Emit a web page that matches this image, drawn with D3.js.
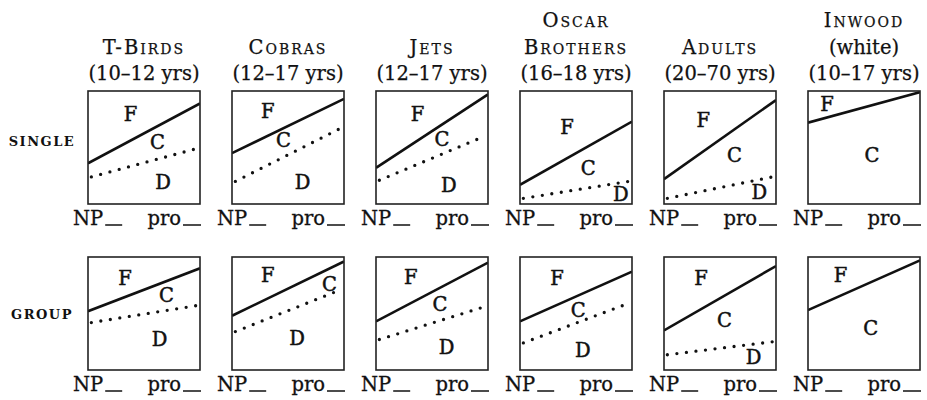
<!DOCTYPE html>
<html>
<head>
<meta charset="utf-8">
<script src="https://cdn.jsdelivr.net/npm/d3@7"></script>
<style>
  body { margin: 0; background: #fff; }
  svg { font-family: "DejaVu Serif", "Liberation Serif", serif; }
  .title { font-size: 19.5px; fill: #111; stroke: #111; stroke-width: 0.25px; }
  .sc { font-variant: small-caps; letter-spacing: 2px; }
  .row { font-size: 13px; font-weight: bold; letter-spacing: 1.5px; fill: #111; }
  .lab { font-size: 19.5px; fill: #111; stroke: #111; stroke-width: 0.5px; }
  .axis { font-size: 19.5px; fill: #111; stroke: #111; stroke-width: 0.3px; }
</style>
</head>
<body>
<div id="chart"></div>
<script>
// groups and their heading lines
const groups = ["T-Birds", "Cobras", "Jets", "Oscar Brothers", "Adults", "Inwood"];
const titleLines = [
  ["T-Birds", "(10–12 yrs)"],
  ["Cobras", "(12–17 yrs)"],
  ["Jets", "(12–17 yrs)"],
  ["Oscar", "Brothers", "(16–18 yrs)"],
  ["Adults", "(20–70 yrs)"],
  ["Inwood", "(white)", "(10–17 yrs)"]
];
const rows = ["single", "group"];

// solid line (F / C boundary): value at left and right edge, 0 = bottom, 1 = top
const solidSingle = [[0.36, 0.89], [0.45, 0.93], [0.32, 0.97], [0.17, 0.73], [0.22, 0.92], [0.72, 0.99]];
const solidGroup  = [[0.52, 0.90], [0.48, 0.96], [0.43, 0.95], [0.43, 0.87], [0.35, 0.92], [0.53, 0.97]];

// dotted line (C / D boundary): value at first and last dot
const dottedSingle = [[0.24, 0.49], [0.20, 0.67], [0.21, 0.60], [0.05, 0.20], [0.05, 0.24], null];
const dottedGroup  = [[0.42, 0.57], [0.34, 0.71], [0.27, 0.56], [0.24, 0.59], [0.135, 0.25], null];

// region letters, [letter, x, y] in the same 0..1 units
const labelsSingle = [
  [["F", 0.38, 0.79], ["C", 0.62, 0.54], ["D", 0.67, 0.19]],
  [["F", 0.32, 0.82], ["C", 0.46, 0.56], ["D", 0.63, 0.19]],
  [["F", 0.37, 0.79], ["C", 0.59, 0.57], ["D", 0.65, 0.16]],
  [["F", 0.42, 0.68], ["C", 0.61, 0.31], ["D", 0.90, 0.085]],
  [["F", 0.35, 0.74], ["C", 0.63, 0.43], ["D", 0.85, 0.10]],
  [["F", 0.17, 0.88], ["C", 0.57, 0.43]]
];
const labelsGroup = [
  [["F", 0.33, 0.81], ["C", 0.70, 0.66], ["D", 0.64, 0.27]],
  [["F", 0.32, 0.84], ["C", 0.87, 0.76], ["D", 0.58, 0.28]],
  [["F", 0.31, 0.82], ["C", 0.57, 0.58], ["D", 0.63, 0.20]],
  [["F", 0.33, 0.81], ["C", 0.52, 0.53], ["D", 0.56, 0.17]],
  [["F", 0.33, 0.81], ["C", 0.54, 0.44], ["D", 0.80, 0.11]],
  [["F", 0.29, 0.84], ["C", 0.56, 0.37]]
];
const axisLabels = ["NP", "pro"];

const solid = { single: solidSingle, group: solidGroup };
const dotted = { single: dottedSingle, group: dottedGroup };
const labels = { single: labelsSingle, group: labelsGroup };

const W = 927, H = 400;
const boxW = 112, boxH = 113;
const rowTop = { single: 91, group: 257 };
const rowLabelY = { single: 146, group: 319 };

const svg = d3.select("#chart").append("svg")
  .attr("width", W).attr("height", H);

const col = d3.scalePoint().domain(groups).range([88, 808]);

// headings, bottom aligned
groups.forEach((g, i) => {
  const lines = titleLines[i];
  const cx = col(g) + boxW / 2;
  lines.forEach((t, j) => {
    const base = 80 - (lines.length - 1 - j) * 26.5;
    svg.append("text")
      .attr("class", t.startsWith("(") ? "title" : "title sc")
      .attr("x", cx).attr("y", base)
      .attr("text-anchor", "middle")
      .text(t);
  });
});

// row labels
rows.forEach(r => {
  svg.append("text")
    .attr("class", "row")
    .attr("x", 42).attr("y", rowLabelY[r])
    .attr("text-anchor", "middle")
    .text(r.toUpperCase());
});

// panels
rows.forEach(r => {
  groups.forEach((g, i) => {
    const gx = col(g), gy = rowTop[r];
    const x = d3.scaleLinear().domain([0, 1]).range([0, boxW]);
    const y = d3.scaleLinear().domain([0, 1]).range([boxH, 0]);
    const p = svg.append("g").attr("transform", `translate(${gx},${gy})`);
    const clipId = `clip-${r}-${i}`;
    p.append("clipPath").attr("id", clipId)
      .append("rect").attr("width", boxW).attr("height", boxH);

    const line = d3.line().x(d => x(d[0])).y(d => y(d[1]));

    const s = solid[r][i];
    p.append("path")
      .attr("clip-path", `url(#${clipId})`)
      .attr("d", line([[0, s[0]], [1, s[1]]]))
      .attr("fill", "none").attr("stroke", "#111")
      .attr("stroke-width", 2.6);

    const dt = dotted[r][i];
    if (dt) {
      p.append("path")
        .attr("d", line([[0.03, dt[0]], [0.97, dt[1]]]))
        .attr("fill", "none").attr("stroke", "#111")
        .attr("stroke-width", 3.3)
        .attr("stroke-linecap", "round")
        .attr("stroke-dasharray", "0 9.6");
    }

    labels[r][i].forEach(l => {
      p.append("text")
        .attr("class", "lab")
        .attr("x", x(l[1])).attr("y", y(l[2]))
        .attr("text-anchor", "middle")
        .attr("dominant-baseline", "central")
        .text(l[0]);
    });

    p.append("rect")
      .attr("width", boxW).attr("height", boxH)
      .attr("fill", "none").attr("stroke", "#222").attr("stroke-width", 1.6);

    // NP __ pro __ under the box
    const base = boxH + 21;
    const np = p.append("text").attr("class", "axis")
      .attr("x", -15).attr("y", base).text(axisLabels[0]);
    const npW = np.node().getComputedTextLength();
    p.append("line")
      .attr("x1", -15 + npW + 2).attr("x2", -15 + npW + 19)
      .attr("y1", base).attr("y2", base)
      .attr("stroke", "#111").attr("stroke-width", 1.5);

    const pro = p.append("text").attr("class", "axis")
      .attr("y", base).text(axisLabels[1]);
    const proW = pro.node().getComputedTextLength();
    pro.attr("x", boxW - 17 - proW - 2);
    p.append("line")
      .attr("x1", boxW - 17).attr("x2", boxW + 1)
      .attr("y1", base).attr("y2", base)
      .attr("stroke", "#111").attr("stroke-width", 1.5);
  });
});
</script>
</body>
</html>
